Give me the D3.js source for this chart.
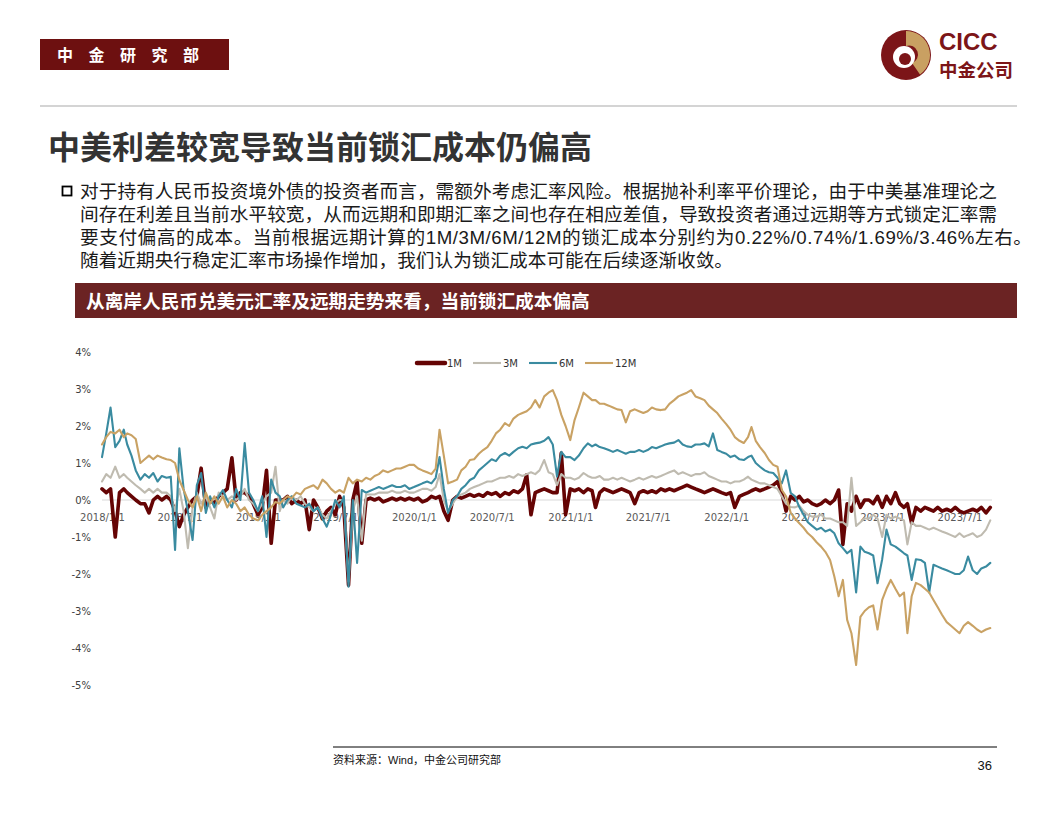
<!DOCTYPE html>
<html><head><meta charset="utf-8">
<script src="https://cdn.jsdelivr.net/npm/d3@7/dist/d3.min.js"></script>
<style>
html,body{margin:0;padding:0;background:#fff;}
svg{display:block;}
</style></head><body>
<svg id="page" width="1056" height="816"></svg>
<script>
// ---------- DATA ----------
const seriesNames = ["1M", "3M", "6M", "12M"];
const seriesColors = ["#650404", "#bfbbb0", "#3a8ba0", "#c9a264"];
const xTickLabels = ["2018/1/1","2018/7/1","2019/1/1","2019/7/1","2020/1/1","2020/7/1","2021/1/1","2021/7/1","2022/1/1","2022/7/1","2023/1/1","2023/7/1"];
const yTickValues = [4, 3, 2, 1, 0, -1, -2, -3, -4, -5];
const sampleDays = [1, 11, 21];      // three readings per month
const firstDate = "2018-01-01", lastDate = "2023-09-14", axisEnd = "2023-09-15";

// lock-in cost, %, 3 readings per month (1st, 11th, 21st)
const m1 = [
 0.3,0.2,0.3, -1.0,0.2,0.3, 0.2,0.1,0.0, -0.1,-0.1,-0.35, 0.0,0.1,0.0, 0.1,0.0,-0.3, -0.72,-0.4,-0.2, 0.0,0.1,0.86, -0.2,0.0,-0.1, 0.1,0.2,0.3, 1.14,0.0,0.2, 0.2,0.1,-0.1,
 -0.4,-0.2,0.8, -1.17,0.0,0.0, 0.0,0.1,-0.1, 0.0,-0.1,0.0, -0.8,0.0,-0.2, -0.5,-0.3,-0.2, -0.4,0.1,-0.2, -2.3,0.0,0.5, -1.17,0.0,0.05, 0.0,0.05,-0.05, 0.0,0.05,0.0, 0.05,0.0,0.05,
 0.0,0.05,-0.05, 0.0,0.1,0.05, 0.1,-0.3,-0.55, 0.0,0.1,0.05, 0.1,0.15,0.1, 0.15,0.1,0.2, 0.15,0.2,0.1, 0.2,0.15,0.25, 0.2,0.3,0.68, -0.4,0.2,0.25, 0.3,0.25,0.2, 0.2,1.27,-0.4,
 0.3,0.25,0.3, 0.2,0.3,0.25, -0.2,0.2,0.3, 0.25,0.2,0.25, 0.3,0.25,0.2, -0.1,0.2,0.25, 0.2,0.25,0.2, 0.3,0.25,0.3, 0.25,0.3,0.35, 0.4,0.35,0.3, 0.25,0.2,0.25, 0.3,0.25,0.2,
 0.15,0.2,-0.2, 0.1,0.15,0.2, 0.25,0.3,0.25, 0.3,0.35,0.4, 0.5,0.2,-0.3, 0.1,0.0,0.1, -0.05,0.0,-0.1, -0.15,-0.1,0.0, -0.1,0.0,0.27, -1.2,-0.1,-0.3, 0.1,-0.2,0.0, 0.0,-0.1,0.1,
 -0.2,0.1,-0.1, 0.2,-0.1,-0.2, -0.1,-0.63,-0.2, -0.3,-0.2,-0.25, -0.3,-0.2,-0.3, -0.25,-0.3,-0.2, -0.3,-0.35,-0.3, -0.25,-0.3,-0.2, -0.35,-0.2
];
const m3 = [
 0.5,0.7,0.6, 0.9,0.6,0.7, 0.6,0.5,0.4, 0.3,0.2,0.3, 0.2,0.3,0.2, 0.2,0.1,-0.3, 0.3,-0.3,-1.3, -0.2,0.2,-0.1, 0.1,-0.2,-0.5, 0.2,0.1,0.0, 0.1,0.0,0.1, 0.3,0.0,-0.1,
 -0.3,-0.1,0.1, 0.2,0.9,-0.3, 0.0,-0.1,0.1, 0.0,0.1,-0.1, -0.2,-0.3,-0.2, -0.4,-0.5,-0.3, -0.1,0.0,0.0, -2.2,-0.3,0.1, -1.1,0.15,0.15, 0.15,0.2,0.2, 0.2,0.25,0.2, 0.2,0.25,0.2,
 0.2,0.25,0.3, 0.3,0.25,0.35, 0.7,0.0,-0.3, -0.1,0.1,0.15, 0.2,0.3,0.35, 0.4,0.45,0.5, 0.5,0.55,0.6, 0.6,0.65,0.6, 0.7,0.65,0.7, 0.75,0.7,0.8, 1.08,0.75,0.7, 0.4,0.7,0.6,
 0.6,0.55,0.6, 0.73,0.65,0.6, 0.6,0.65,0.55, 0.55,0.6,0.55, 0.6,0.55,0.5, 0.55,0.6,0.55, 0.6,0.65,0.6, 0.65,0.7,0.75, 0.8,0.7,0.75, 0.7,0.65,0.7, 0.7,0.75,0.65, 0.6,0.55,0.5,
 0.5,0.45,0.5, 0.5,0.55,0.63, 0.55,0.5,0.45, 0.45,0.4,0.35, 0.3,0.1,-0.1, -0.19,-0.2,-0.15, -0.3,-0.4,-0.45, -0.45,-0.4,-0.5, -0.5,-0.55,-0.6, -0.6,-0.7,0.6, -0.7,-0.6,-0.5, -0.5,-0.4,-0.5,
 -1.0,-0.4,-0.5, -0.45,-0.5,-0.55, -1.2,-0.6,-0.7, -0.7,-0.75,-0.8, -0.75,-0.8,-0.85, -0.9,-0.95,-1.0, -0.9,-1.0,-0.95, -0.9,-1.0,-0.95, -0.8,-0.55
];
const m6 = [
 1.16,1.8,2.5, 1.43,1.6,1.9, 1.5,1.2,0.8, 0.55,0.7,0.6, 0.73,0.5,0.65, 0.6,0.63,-1.35, 1.4,0.3,-0.3, -1.08,0.4,0.73, -0.35,0.1,-0.2, 0.1,0.27,0.0, -0.2,0.3,0.0, 1.54,0.2,0.0,
 -0.3,0.1,-1.0, 0.55,0.2,0.1, -0.2,0.0,0.1, -0.1,-0.15,-0.2, -0.1,-0.3,-0.2, -0.5,-0.72,-0.4, 0.0,-0.2,0.1, -2.34,0.0,-1.7, 0.27,0.2,0.25, 0.3,0.35,0.3, 0.35,0.4,0.35, 0.35,0.4,0.3,
 0.35,0.4,0.45, 0.5,0.45,0.6, 1.16,0.3,-0.35, 0.0,0.1,0.3, 0.4,0.54,0.6, 0.8,0.9,1.0, 1.1,1.05,1.2, 1.27,1.2,1.3, 1.4,1.44,1.4, 1.5,1.53,1.55, 1.6,1.7,1.5, 0.63,1.3,1.16,
 1.16,1.08,1.2, 1.4,1.53,1.45, 1.5,1.43,1.4, 1.35,1.3,1.35, 1.3,1.25,1.3, 1.3,1.35,1.3, 1.35,1.43,1.4, 1.45,1.5,1.53, 1.55,1.62,1.5, 1.45,1.43,1.5, 1.5,1.53,1.45, 1.8,1.35,1.3,
 1.25,1.16,1.2, 1.1,1.08,1.16, 1.2,1.0,0.9, 0.8,0.75,0.73, 0.6,0.45,0.8, 0.19,0.1,-0.19, -0.4,-0.6,-0.7, -0.8,-0.75,-0.85, -0.8,-0.9,-1.17, -1.3,-1.44,-1.35, -2.5,-1.26,-1.4, -1.44,-1.5,-2.25,
 -1.6,-0.8,-1.2, -1.26,-1.35,-1.44, -1.5,-2.16,-1.6, -1.62,-1.7,-2.5, -1.75,-1.8,-1.85, -1.9,-1.95,-2.0, -2.0,-1.9,-1.53, -1.9,-2.0,-1.85, -1.8,-1.7
];
const m12 = [
 1.5,1.7,1.84, 1.8,1.9,1.7, 1.8,1.75,1.65, 1.0,1.1,1.2, 1.1,1.2,1.15, 1.1,1.08,1.0, 0.54,0.27,0.0, -0.2,0.1,-0.3, 0.2,-0.1,0.1, -0.1,0.1,-0.2, 0.0,-0.1,-0.3, -0.2,-0.4,-0.5,
 -0.55,-0.4,-0.3, -0.2,-0.05,-0.1, 0.0,0.1,0.05, 0.2,0.15,0.3, 0.35,0.4,0.3, 0.55,0.45,0.3, 0.2,0.27,0.2, 0.6,0.45,0.55, 0.5,0.6,0.55, 0.65,0.7,0.8, 0.75,0.8,0.85, 0.85,0.9,0.95,
 0.95,0.85,0.8, 0.75,0.7,0.85, 1.9,1.2,0.45, 0.5,0.55,0.8, 0.9,1.08,1.1, 1.25,1.35,1.43, 1.6,1.8,1.9, 2.08,2.0,2.2, 2.3,2.35,2.4, 2.5,2.7,2.5, 2.8,2.9,2.97, 2.7,2.3,2.0,
 1.62,2.16,2.5, 2.9,2.8,2.7, 2.7,2.6,2.6, 2.55,2.5,2.45, 2.43,2.1,2.4, 2.45,2.4,2.35, 2.4,2.5,2.45, 2.43,2.45,2.6, 2.7,2.8,2.85, 2.9,2.97,2.8, 2.75,2.7,2.55, 2.45,2.35,2.2,
 2.05,1.9,1.7, 1.6,1.54,1.7, 1.97,1.6,1.43, 1.27,1.08,0.95, 0.9,0.27,0.1, -0.35,-0.5,-0.63, -0.75,-0.9,-1.0, -1.15,-1.26,-1.4, -1.62,-2.07,-2.6, -2.16,-3.24,-3.6, -4.46,-3.16,-3.0, -2.9,-2.85,-3.5,
 -2.7,-2.4,-2.16, -2.4,-2.6,-2.5, -3.6,-2.6,-2.24, -2.3,-2.4,-2.5, -2.7,-2.9,-3.1, -3.3,-3.4,-3.5, -3.6,-3.4,-3.3, -3.4,-3.5,-3.57, -3.5,-3.46
];
const seriesValues = [m1, m3, m6, m12];

// ---------- TEXT ----------
const headerLabel = ["中","金","研","究","部"];
const titleText = "中美利差较宽导致当前锁汇成本仍偏高";
const bodyLines = [
 "对于持有人民币投资境外债的投资者而言，需额外考虑汇率风险。根据抛补利率平价理论，由于中美基准理论之",
 "间存在利差且当前水平较宽，从而远期和即期汇率之间也存在相应差值，导致投资者通过远期等方式锁定汇率需",
 "要支付偏高的成本。当前根据远期计算的1M/3M/6M/12M的锁汇成本分别约为0.22%/0.74%/1.69%/3.46%左右。",
 "随着近期央行稳定汇率市场操作增加，我们认为锁汇成本可能在后续逐渐收敛。"
];
const sectionText = "从离岸人民币兑美元汇率及远期走势来看，当前锁汇成本偏高";
const sourceText = "资料来源：Wind，中金公司研究部";
const pageNum = "36";

// ---------- DRAW ----------
const svg = d3.select("#page");
const CJK = "'Liberation Sans', Arial, 'Noto Sans CJK SC', sans-serif";

// header box
svg.append("rect").attr("x",40).attr("y",39).attr("width",189).attr("height",31).attr("fill","#6d1010");
svg.selectAll("text.hdr").data(headerLabel).enter().append("text").attr("class","hdr")
  .attr("x",(d,i)=>65 + i*31.5).attr("y",61).attr("text-anchor","middle")
  .attr("font-family","'Noto Sans CJK SC'").attr("font-weight","bold").attr("font-size",16)
  .attr("fill","#fff").text(d=>d);

// logo
const logo = svg.append("g").attr("transform","translate(906,55)");
logo.append("circle").attr("r",25).attr("fill","#7c1518");
logo.append("path").attr("d","M0,-24 A24,24 0 0 1 14,19.5 L6,8 A9,9 0 0 0 0,-9 Z").attr("fill","#c9a062");
logo.append("circle").attr("cx",-2).attr("cy",2).attr("r",11).attr("fill","#fff");
logo.append("circle").attr("cx",-1).attr("cy",4).attr("r",6).attr("fill","#7c1518");
svg.append("text").attr("x",939).attr("y",50).attr("font-family","'Liberation Sans', Arial, sans-serif")
  .attr("font-weight","bold").attr("font-size",24).attr("fill","#7c1518").text("CICC");
svg.append("text").attr("x",939).attr("y",77).attr("font-family","'Noto Sans CJK SC'")
  .attr("font-weight","bold").attr("font-size",18.5).attr("fill","#7c1518").text("中金公司");

// separator
svg.append("line").attr("x1",40).attr("x2",1017).attr("y1",106).attr("y2",106).attr("stroke","#d4d4d4").attr("stroke-width",2);

// title
svg.append("text").attr("x",48).attr("y",159).attr("font-family","'Noto Sans CJK SC'").attr("font-weight","bold")
  .attr("font-size",32).attr("fill","#333").text(titleText);

// bullet + body
svg.append("rect").attr("x",62.5).attr("y",186.5).attr("width",9).attr("height",9).attr("fill","none").attr("stroke","#000").attr("stroke-width",1.8);
const bodyLengths = [917, 917, 952, null];
svg.selectAll("text.body").data(bodyLines).enter().append("text").attr("class","body")
  .attr("x",80).attr("y",(d,i)=>198 + i*23)
  .attr("font-family",CJK).attr("font-size",18.67).attr("fill","#1a1a1a")
  .each(function(d,i){ if(bodyLengths[i]) d3.select(this).attr("textLength",bodyLengths[i]).attr("lengthAdjust","spacing"); })
  .text(d=>d);

// section bar
svg.append("rect").attr("x",75).attr("y",283).attr("width",942).attr("height",35).attr("fill","#6b2323");
svg.append("text").attr("x",86).attr("y",308).attr("font-family","'Noto Sans CJK SC'").attr("font-weight","bold")
  .attr("font-size",18.67).attr("fill","#fff").text(sectionText);

// chart
const parse = d3.utcParse("%Y-%m-%d");
const t0 = parse(firstDate), tLast = parse(lastDate), tEnd = parse(axisEnd);
const sampleDates = [];
for (let yr = 2018; yr <= 2023; yr++) for (let m = 0; m < 12; m++) for (const d of sampleDays) {
  const t = new Date(Date.UTC(yr, m, d));
  if (t <= tLast) sampleDates.push(t);
}
const x = d3.scaleUtc().domain([t0, tEnd]).range([102, 992]);
const y = d3.scaleLinear().domain([-5, 4]).range([685, 352]);

// zero axis line
svg.append("line").attr("x1",x(t0)).attr("x2",x(tEnd)).attr("y1",y(0)).attr("y2",y(0)).attr("stroke","#d9d9d9").attr("stroke-width",1);

// y axis
const yAxis = svg.append("g").attr("transform","translate(101,0)")
  .call(d3.axisLeft(y).tickValues(yTickValues).tickSize(0).tickPadding(10).tickFormat(v=>v+"%"));
yAxis.select(".domain").remove();
yAxis.selectAll("text").attr("font-family","'DejaVu Sans', Verdana, sans-serif").attr("font-size",10).attr("fill","#404040");

// x axis labels
const xTickDates = xTickLabels.map(s=>{const [Y,M,D]=s.split("/").map(Number); return new Date(Date.UTC(Y,M-1,D));});
const xAxis = svg.append("g").attr("transform",`translate(0,${y(0)})`)
  .call(d3.axisBottom(x).tickValues(xTickDates).tickSize(0).tickPadding(14).tickFormat((d,i)=>xTickLabels[i]));
xAxis.select(".domain").remove();
xAxis.selectAll("text").attr("font-family","'DejaVu Sans', Verdana, sans-serif").attr("font-size",10).attr("fill","#595959");

// series lines
const widths = [3.6, 2.1, 2.1, 2.1];
const line = d3.line().x(d=>x(d.t)).y(d=>y(d.v));
seriesValues.forEach((vals,si)=>{
  const pts = vals.map((v,i)=>({t:sampleDates[i], v}));
  svg.append("path").datum(pts).attr("d",line).attr("fill","none")
    .attr("stroke",seriesColors[si]).attr("stroke-width",widths[si])
    .attr("stroke-linejoin","round").attr("stroke-linecap","round");
});

// legend
let lx = 417;
const ly = 363;
seriesNames.forEach((name,i)=>{
  svg.append("line").attr("x1",lx).attr("x2",lx+28).attr("y1",ly).attr("y2",ly)
    .attr("stroke",seriesColors[i]).attr("stroke-width", i===0?4.5:2.1).attr("stroke-linecap", i===0?"round":"butt");
  const t = svg.append("text").attr("x",lx+30).attr("y",ly+3.5).attr("font-family","'DejaVu Sans', Verdana, sans-serif")
    .attr("font-size",10).attr("fill","#333").text(name);
  lx += 30 + t.node().getComputedTextLength() + 11;
});

// footer
svg.append("line").attr("x1",333).attr("x2",997).attr("y1",747).attr("y2",747).attr("stroke","#000").attr("stroke-width",1);
svg.append("text").attr("x",333).attr("y",764).attr("font-family",CJK).attr("font-size",11).attr("fill","#111").text(sourceText);
svg.append("text").attr("x",992).attr("y",770).attr("text-anchor","end").attr("font-family","'Liberation Sans', Arial, sans-serif")
  .attr("font-size",13).attr("fill","#111").text(pageNum);
</script>
</body></html>
